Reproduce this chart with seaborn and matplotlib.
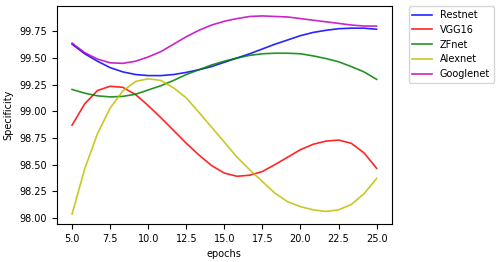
import pandas as pd
import matplotlib
matplotlib.use("Agg")
import matplotlib.pyplot as plt
import seaborn as sns

epochs = [5.0, 5.83, 6.67, 7.5, 8.33, 9.17, 10.0, 10.83, 11.67, 12.5, 13.33, 14.17, 15.0,
          15.83, 16.67, 17.5, 18.33, 19.17, 20.0, 20.83, 21.67, 22.5, 23.33, 24.17, 25.0]

restnet = [99.63, 99.54, 99.47, 99.41, 99.37, 99.345, 99.335, 99.335, 99.345, 99.365, 99.39, 99.42, 99.46,
           99.50, 99.54, 99.585, 99.63, 99.67, 99.71, 99.74, 99.76, 99.775, 99.78, 99.78, 99.77]
vgg16 = [98.87, 99.07, 99.195, 99.235, 99.225, 99.157, 99.054, 98.94, 98.82, 98.70, 98.59, 98.49, 98.42,
         98.39, 98.40, 98.435, 98.50, 98.57, 98.64, 98.69, 98.72, 98.73, 98.70, 98.61, 98.465]
zfnet = [99.205, 99.17, 99.145, 99.135, 99.14, 99.16, 99.20, 99.24, 99.29, 99.345, 99.39, 99.435, 99.47,
         99.50, 99.525, 99.54, 99.545, 99.545, 99.54, 99.52, 99.495, 99.465, 99.42, 99.37, 99.30]
alexnet = [98.035, 98.46, 98.79, 99.03, 99.19, 99.28, 99.305, 99.29, 99.22, 99.126, 98.99, 98.85, 98.71,
           98.57, 98.45, 98.34, 98.23, 98.15, 98.105, 98.075, 98.06, 98.075, 98.125, 98.225, 98.37]
googlenet = [99.64, 99.55, 99.49, 99.455, 99.45, 99.47, 99.51, 99.56, 99.63, 99.70, 99.76, 99.81, 99.845,
             99.87, 99.89, 99.895, 99.89, 99.885, 99.87, 99.855, 99.84, 99.825, 99.81, 99.80, 99.80]

models = ["Restnet", "VGG16", "ZFnet", "Alexnet", "Googlenet"]
colors = ["b", "r", "g", "y", "m"]

df = pd.DataFrame({"epochs": epochs, "Restnet": restnet, "VGG16": vgg16, "ZFnet": zfnet,
                   "Alexnet": alexnet, "Googlenet": googlenet})
long = df.melt(id_vars="epochs", var_name="model", value_name="Specificity")

fig = plt.figure(figsize=(5.03, 2.62), dpi=100)
ax = fig.add_axes([0.113, 0.145, 0.666, 0.832])
sns.lineplot(data=long, x="epochs", y="Specificity", hue="model", hue_order=models,
             palette=colors, ax=ax, linewidth=1.2, alpha=0.85)

ax.set_xlabel("epochs", fontsize=7)
ax.set_ylabel("Specificity", fontsize=7)
ax.tick_params(labelsize=7)
ax.legend(bbox_to_anchor=(1.05, 1), loc="upper left", borderaxespad=0, fontsize=7)

fig.savefig("out.png", dpi=100)
